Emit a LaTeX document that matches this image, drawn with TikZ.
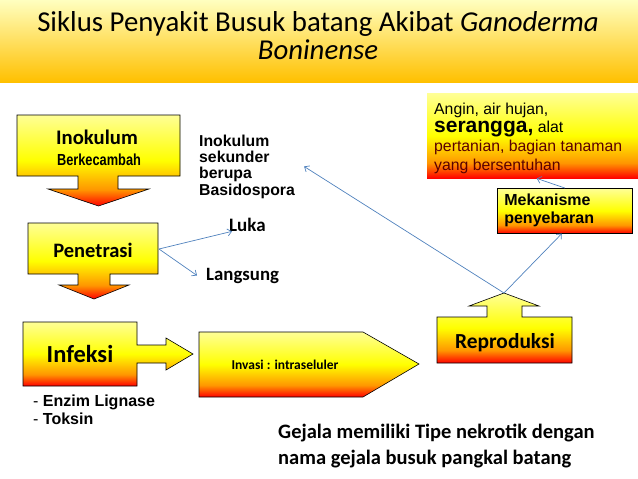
\documentclass[tikz,border=0pt]{standalone}
\usepackage{fontspec}
\setmainfont{Carlito}
\newfontfamily\arialfont{Liberation Sans}
\newfontfamily\narrowfont[FakeStretch=0.8]{Liberation Sans}
\usepackage{tikz}
\usetikzlibrary{arrows.meta,positioning}
\definecolor{flowblue}{RGB}{79,129,189}
\definecolor{sunorange}{RGB}{255,150,0}
\definecolor{bandorange}{RGB}{255,192,0}
\definecolor{paleyellow}{RGB}{255,255,150}
\definecolor{darkrust}{RGB}{90,0,0}
\pgfdeclareverticalshading{flame}{100bp}{color(0bp)=(red); color(25bp)=(red); color(34bp)=(sunorange);
  color(50bp)=(yellow); color(75bp)=(paleyellow); color(100bp)=(paleyellow)}

\begin{document}
\begin{tikzpicture}[x=1pt, y=-1pt,
  fire/.style={draw=black, line width=0.6pt, shading=flame},
  boxlbl/.style={inner sep=0pt, anchor=base, font=\bfseries\fontsize{20}{24}\selectfont},
  note/.style={inner sep=0pt, anchor=base west, align=left, font=\arialfont\bfseries\fontsize{15.8}{16.3}\selectfont},
  link/.style={draw=flowblue, line width=0.7pt, -{Straight Barb[length=4pt,width=7pt]}}]
\useasboundingbox (0,0) rectangle (638,479);

% title band
\shade[top color=yellow!25!white, middle color=yellow, bottom color=bandorange] (0,0) rectangle (638,82);
\node[inner sep=0pt, anchor=base, font=\fontsize{28.8}{30}\selectfont] (title1) at (318,31) {Siklus Penyakit Busuk batang Akibat \textit{Ganoderma}};
\node[inner sep=0pt, anchor=base, font=\fontsize{28.8}{30}\selectfont] (title2) at (318,59) {\textit{Boninense}};

% block arrows
\path[fire] (17,115) -- (180,115) -- (180,176) -- (118,176) -- (118,189) -- (149,189) -- (98.5,206)
  -- (48,189) -- (78,189) -- (78,176) -- (17,176) -- cycle;
\path[fire] (28,223) -- (158,223) -- (158,274) -- (110,274) -- (110,285) -- (129,285) -- (94,299)
  -- (59,285) -- (78,285) -- (78,274) -- (28,274) -- cycle;
\path[fire] (23,322) -- (137,322) -- (137,345) -- (166,345) -- (166,338) -- (193,354) -- (166,370)
  -- (166,363) -- (137,363) -- (137,386) -- (23,386) -- cycle;
\path[fire] (199,332) -- (363,332) -- (419,364) -- (363,397) -- (199,397) -- cycle;
\path[fire] (437,363) -- (437,317) -- (487,317) -- (487,306) -- (469,306) -- (504,293) -- (539,306)
  -- (522,306) -- (522,317) -- (572,317) -- (572,363) -- cycle;
\coordinate (peneR) at (159,249);
\coordinate (reproTip) at (504,293);

\node[boxlbl, font=\bfseries\fontsize{20.7}{24}\selectfont] (inok) at (97,144) {Inokulum};
\node[inner sep=0pt, anchor=base, font=\narrowfont\bfseries\fontsize{16}{18}\selectfont] (kecambah) at (99,165) {Berkecambah};
\node[boxlbl, font=\bfseries\fontsize{20.5}{24}\selectfont] (pene) at (93,257) {Penetrasi};
\node[boxlbl, font=\bfseries\fontsize{24.5}{28}\selectfont] (infe) at (80,362) {Infeksi};
\node[boxlbl, font=\bfseries\fontsize{13.5}{16}\selectfont] (invasi) at (285,369) {Invasi : intraseluler};
\node[boxlbl, font=\bfseries\fontsize{21.4}{24}\selectfont] (repro) at (505,348) {Reproduksi};

% spreading
\node[fire, anchor=north west, minimum width=132pt, minimum height=45pt, text width=121pt, inner xsep=7pt,
  align=left, font=\arialfont\bfseries\fontsize{16}{18}\selectfont] (mekan) at (497,188) {Mekanisme\\penyebaran};
\node[anchor=north west, inner sep=0pt, minimum width=211pt, minimum height=85pt, shading=flame] (angin) at (427,93) {};
\node[note, font=\arialfont\fontsize{15.8}{18.6}\selectfont] (anginTxt) at (434,170)
  {Angin, air hujan,\\{\bfseries\fontsize{21}{21}\selectfont serangga,} alat\\\textcolor{darkrust}{pertanian, bagian tanaman}\\\textcolor{darkrust}{yang bersentuhan}};

% free labels
\node[note] (sekunder) at (199,195) {Inokulum\\sekunder\\berupa\\Basidospora};
\node[boxlbl, anchor=base west, font=\bfseries\fontsize{19}{20}\selectfont] (luka) at (229,231) {Luka};
\node[boxlbl, anchor=base west, font=\bfseries\fontsize{18.8}{20}\selectfont] (langsung) at (206,280) {Langsung};
\node[note, font=\arialfont\fontsize{16}{18}\selectfont] (enzim) at (33,424) {- \textbf{Enzim Lignase}\\- \textbf{Toksin}};
\node[note, font=\bfseries\fontsize{20.5}{26}\selectfont] (gejala) at (278,464) {Gejala memiliki Tipe nekrotik dengan\\nama gejala busuk pangkal batang};

% connectors
\draw[link] (peneR) -- ([xshift=3pt]luka.south west);
\draw[link] (peneR) -- ([xshift=-9pt]langsung.west);
\draw[link] (reproTip) -- ([xshift=9pt]sekunder.east);
\draw[link] (reproTip) -- ([xshift=-3pt]mekan.south);
\draw[link] (mekan.north) -- ([xshift=4pt]angin.south);
\end{tikzpicture}
\end{document}
